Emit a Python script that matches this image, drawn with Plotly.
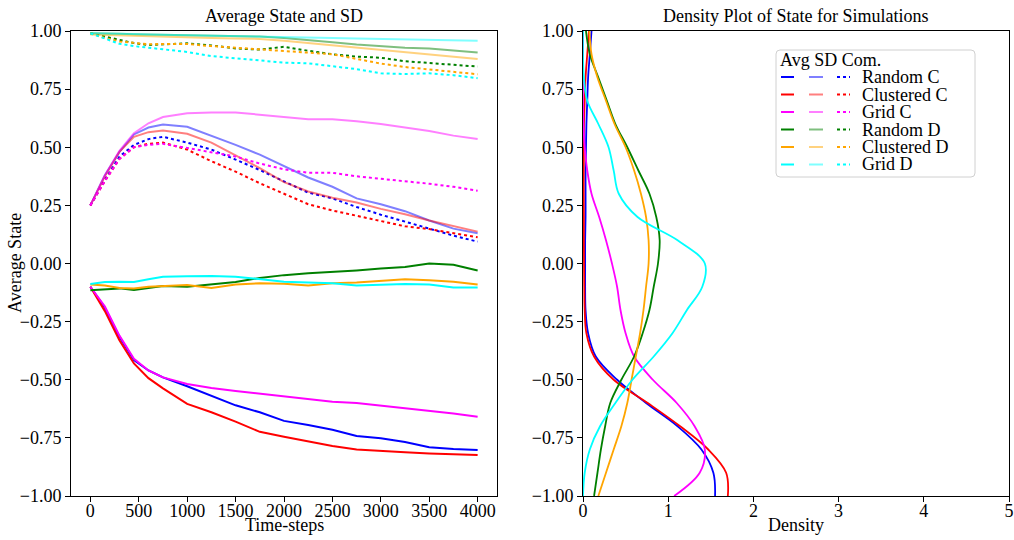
import plotly.graph_objects as go

W, H = 1014, 540
FONT = "Liberation Serif, Times New Roman, serif"

# ---------------- data: left panel (time series) ----------------
time_steps = [0, 150, 300, 450, 600, 750, 1000, 1250, 1500, 1750, 2000,
              2250, 2500, 2750, 3000, 3250, 3500, 3750, 4000]

random_c_avg = [-0.10, -0.19, -0.315, -0.415, -0.46, -0.49, -0.528, -0.568, -0.61, -0.64, -0.677,
                -0.695, -0.715, -0.742, -0.752, -0.768, -0.79, -0.798, -0.802]
random_c_sd = [0.25, 0.38, 0.48, 0.555, 0.585, 0.598, 0.588, 0.55, 0.51, 0.468, 0.42,
               0.37, 0.33, 0.28, 0.255, 0.225, 0.185, 0.15, 0.13]
random_c_com = [0.25, 0.36, 0.46, 0.51, 0.535, 0.545, 0.52, 0.49, 0.447, 0.402, 0.353,
                0.305, 0.28, 0.243, 0.21, 0.18, 0.148, 0.12, 0.094]

clustered_c_avg = [-0.10, -0.205, -0.33, -0.43, -0.493, -0.537, -0.604, -0.64, -0.68, -0.724, -0.745,
                   -0.766, -0.785, -0.80, -0.807, -0.812, -0.817, -0.82, -0.824]
clustered_c_sd = [0.25, 0.375, 0.48, 0.545, 0.565, 0.572, 0.558, 0.52, 0.465, 0.41, 0.35,
                  0.31, 0.283, 0.262, 0.235, 0.212, 0.185, 0.16, 0.137]
clustered_c_com = [0.25, 0.355, 0.45, 0.5, 0.515, 0.52, 0.49, 0.44, 0.395, 0.345, 0.30,
                   0.255, 0.228, 0.205, 0.185, 0.16, 0.148, 0.13, 0.113]

grid_c_avg = [-0.10, -0.185, -0.31, -0.41, -0.46, -0.49, -0.518, -0.535, -0.548, -0.56, -0.57,
              -0.583, -0.595, -0.60, -0.611, -0.62, -0.632, -0.645, -0.659]
grid_c_sd = [0.25, 0.38, 0.485, 0.56, 0.603, 0.63, 0.646, 0.65, 0.65, 0.64, 0.633,
             0.62, 0.62, 0.612, 0.60, 0.585, 0.57, 0.55, 0.535]
grid_c_com = [0.25, 0.355, 0.45, 0.5, 0.51, 0.515, 0.497, 0.48, 0.46, 0.43, 0.405,
              0.39, 0.39, 0.375, 0.365, 0.355, 0.343, 0.33, 0.313]

random_d_avg = [-0.115, -0.11, -0.107, -0.114, -0.105, -0.097, -0.10, -0.09, -0.08, -0.062, -0.05,
                -0.042, -0.037, -0.03, -0.022, -0.015, 0.0, -0.005, -0.03]
random_d_sd = [0.99, 0.99, 0.988, 0.986, 0.985, 0.983, 0.982, 0.98, 0.978, 0.976, 0.97,
               0.962, 0.952, 0.942, 0.935, 0.928, 0.925, 0.915, 0.907]
random_d_com = [0.99, 0.975, 0.96, 0.948, 0.94, 0.942, 0.947, 0.938, 0.925, 0.92, 0.932,
                0.915, 0.90, 0.89, 0.885, 0.87, 0.862, 0.857, 0.847]

clustered_d_avg = [-0.09, -0.095, -0.105, -0.108, -0.10, -0.097, -0.093, -0.105, -0.09, -0.085, -0.087,
                   -0.095, -0.085, -0.082, -0.075, -0.068, -0.072, -0.078, -0.09]
clustered_d_sd = [0.985, 0.983, 0.98, 0.978, 0.976, 0.975, 0.973, 0.97, 0.968, 0.966, 0.958,
                  0.948, 0.938, 0.928, 0.918, 0.908, 0.90, 0.89, 0.88]
clustered_d_com = [0.99, 0.97, 0.955, 0.948, 0.943, 0.944, 0.944, 0.935, 0.928, 0.918, 0.912,
                   0.906, 0.90, 0.88, 0.86, 0.845, 0.835, 0.823, 0.814]

grid_d_avg = [-0.088, -0.08, -0.078, -0.08, -0.068, -0.057, -0.055, -0.054, -0.057, -0.068, -0.078,
              -0.082, -0.085, -0.095, -0.092, -0.088, -0.09, -0.103, -0.103]
grid_d_sd = [0.99, 0.99, 0.988, 0.987, 0.985, 0.984, 0.983, 0.981, 0.979, 0.978, 0.975,
             0.972, 0.97, 0.968, 0.966, 0.964, 0.962, 0.96, 0.958]
grid_d_com = [0.99, 0.968, 0.945, 0.935, 0.928, 0.922, 0.91, 0.892, 0.882, 0.872, 0.864,
              0.861, 0.848, 0.836, 0.818, 0.815, 0.818, 0.81, 0.797]

# ---------------- data: right panel (densities) ----------------
state_grid = [1.0, 0.9, 0.8, 0.7, 0.6, 0.5, 0.4, 0.3, 0.2, 0.1, 0.0,
              -0.1, -0.2, -0.3, -0.4, -0.5, -0.6, -0.7, -0.8, -0.9, -1.0]

dens_random_c = [0.10, 0.08, 0.06, 0.05, 0.04, 0.035, 0.03, 0.03, 0.03, 0.025, 0.025,
                 0.025, 0.03, 0.06, 0.15, 0.40, 0.74, 1.11, 1.39, 1.53, 1.55]
dens_clustered_c = [0.07, 0.05, 0.03, 0.02, 0.012, 0.01, 0.008, 0.008, 0.01, 0.01, 0.012,
                    0.015, 0.02, 0.04, 0.13, 0.36, 0.76, 1.14, 1.47, 1.68, 1.70]
dens_grid_c = [0.0, 0.0, 0.0, 0.0, 0.005, 0.02, 0.05, 0.10, 0.19, 0.27, 0.34,
               0.40, 0.44, 0.50, 0.60, 0.82, 1.10, 1.31, 1.43, 1.37, 1.07]
dens_random_d = [0.035, 0.08, 0.18, 0.28, 0.38, 0.52, 0.65, 0.78, 0.86, 0.90, 0.88,
                 0.83, 0.78, 0.70, 0.60, 0.45, 0.32, 0.26, 0.21, 0.17, 0.13]
dens_clustered_d = [0.075, 0.10, 0.17, 0.27, 0.37, 0.50, 0.60, 0.68, 0.74, 0.77, 0.77,
                    0.74, 0.71, 0.67, 0.62, 0.57, 0.52, 0.45, 0.36, 0.27, 0.18]
dens_grid_d = [0.0, 0.0, 0.01, 0.05, 0.18, 0.30, 0.36, 0.42, 0.64, 1.11, 1.43,
               1.40, 1.22, 1.05, 0.83, 0.58, 0.38, 0.20, 0.08, 0.02, 0.0]

labels = ["Random C", "Clustered C", "Grid C", "Random D", "Clustered D", "Grid D"]
colors = ["#0000ff", "#ff0000", "#ff00ff", "#008000", "#ffa500", "#00ffff"]
light = ["rgba(0,0,255,0.5)", "rgba(255,0,0,0.5)", "rgba(255,0,255,0.5)",
         "rgba(0,128,0,0.5)", "rgba(255,165,0,0.5)", "rgba(0,255,255,0.5)"]

avg_series = [random_c_avg, clustered_c_avg, grid_c_avg, random_d_avg, clustered_d_avg, grid_d_avg]
sd_series = [random_c_sd, clustered_c_sd, grid_c_sd, random_d_sd, clustered_d_sd, grid_d_sd]
com_series = [random_c_com, clustered_c_com, grid_c_com, random_d_com, clustered_d_com, grid_d_com]
dens_series = [dens_random_c, dens_clustered_c, dens_grid_c, dens_random_d, dens_clustered_d, dens_grid_d]

fig = go.Figure()

for lab, c, lc, a, s, cm in zip(labels, colors, light, avg_series, sd_series, com_series):
    fig.add_trace(go.Scatter(x=time_steps, y=a, mode="lines", name=lab + " Avg",
                             line=dict(color=c, width=2), showlegend=False, xaxis="x", yaxis="y"))
    fig.add_trace(go.Scatter(x=time_steps, y=s, mode="lines", name=lab + " SD",
                             line=dict(color=lc, width=2), showlegend=False, xaxis="x", yaxis="y"))
    fig.add_trace(go.Scatter(x=time_steps, y=cm, mode="lines", name=lab + " Com.",
                             line=dict(color=c, width=2, dash="dot"), showlegend=False,
                             xaxis="x", yaxis="y"))

for lab, c, d in zip(labels, colors, dens_series):
    fig.add_trace(go.Scatter(x=d, y=state_grid, mode="lines", name=lab,
                             line=dict(color=c, width=1.8, shape="spline", smoothing=1.0),
                             showlegend=False, xaxis="x2", yaxis="y2"))


def px(x):
    return x / W


def py(y):
    return 1 - y / H


ydom = [py(496), py(31)]
axis_common = dict(showline=True, linecolor="black", linewidth=1, mirror=True,
                   ticks="outside", ticklen=5, tickcolor="black", showgrid=False,
                   zeroline=False, tickfont=dict(family=FONT, size=18, color="black"),
                   automargin=False)

fig.update_layout(
    width=W, height=H,
    margin=dict(l=0, r=0, t=0, b=0),
    paper_bgcolor="white", plot_bgcolor="white",
    font=dict(family=FONT, size=18, color="black"),
    xaxis=dict(domain=[px(71), px(497)], range=[-200, 4200],
               tickvals=[0, 500, 1000, 1500, 2000, 2500, 3000, 3500, 4000], anchor="y",
               ticklabelstandoff=-7, **axis_common),
    yaxis=dict(domain=ydom, range=[-1, 1],
               tickvals=[-1, -0.75, -0.5, -0.25, 0, 0.25, 0.5, 0.75, 1], tickformat=".2f",
               anchor="x", **axis_common),
    xaxis2=dict(domain=[px(583), px(1009)], range=[0, 5],
                tickvals=[0, 1, 2, 3, 4, 5], anchor="y2", ticklabelstandoff=-7, **axis_common),
    yaxis2=dict(domain=ydom, range=[-1, 1],
                tickvals=[-1, -0.75, -0.5, -0.25, 0, 0.25, 0.5, 0.75, 1], tickformat=".2f",
                anchor="x2", **axis_common),
    showlegend=False,
)

annotations = [
    dict(text="Average State and SD", x=px(284), y=py(16)),
    dict(text="Density Plot of State for Simulations", x=px(796), y=py(16)),
    dict(text="Time-steps", x=px(284), y=py(525)),
    dict(text="Density", x=px(796), y=py(525)),
    dict(text="Average State", x=px(15), y=py(263), textangle=-90),
]
for a in annotations:
    fig.add_annotation(xref="paper", yref="paper", showarrow=False,
                       xanchor="center", yanchor="middle",
                       font=dict(family=FONT, size=18, color="black"), **a)

# ---------------- manual legend (three line samples per row) ----------------
lx0, lx1, ly0, ly1, r = px(776), px(975), py(50), py(177), 4
rx, ry = r / W, r / H
path = (f"M {lx0+rx},{ly0} L {lx1-rx},{ly0} Q {lx1},{ly0} {lx1},{ly0-ry} "
        f"L {lx1},{ly1+ry} Q {lx1},{ly1} {lx1-rx},{ly1} L {lx0+rx},{ly1} "
        f"Q {lx0},{ly1} {lx0},{ly1+ry} L {lx0},{ly0-ry} Q {lx0},{ly0} {lx0+rx},{ly0} Z")
fig.add_shape(type="path", path=path, xref="paper", yref="paper",
              line=dict(color="#d0d0d0", width=1), fillcolor="rgba(255,255,255,0.8)")

fig.add_annotation(xref="paper", yref="paper", showarrow=False, text="Avg SD Com.",
                   x=px(778), y=py(60), xanchor="left", yanchor="middle",
                   font=dict(family=FONT, size=18, color="black"))

row_y = [77, 94.5, 112, 129.5, 147, 164.5]
for lab, c, lc, yy in zip(labels, colors, light, row_y):
    fig.add_shape(type="line", xref="paper", yref="paper", x0=px(781), x1=px(794),
                  y0=py(yy), y1=py(yy), line=dict(color=c, width=2))
    fig.add_shape(type="line", xref="paper", yref="paper", x0=px(809), x1=px(823),
                  y0=py(yy), y1=py(yy), line=dict(color=lc, width=2))
    fig.add_shape(type="line", xref="paper", yref="paper", x0=px(837), x1=px(850),
                  y0=py(yy), y1=py(yy), line=dict(color=c, width=2, dash="dot"))
    fig.add_annotation(xref="paper", yref="paper", showarrow=False, text=lab,
                       x=px(860), y=py(yy), xanchor="left", yanchor="middle",
                       font=dict(family=FONT, size=18, color="black"))

fig.write_html("out.html", config={"displayModeBar": False},
               post_script="document.body.style.margin='0';")
